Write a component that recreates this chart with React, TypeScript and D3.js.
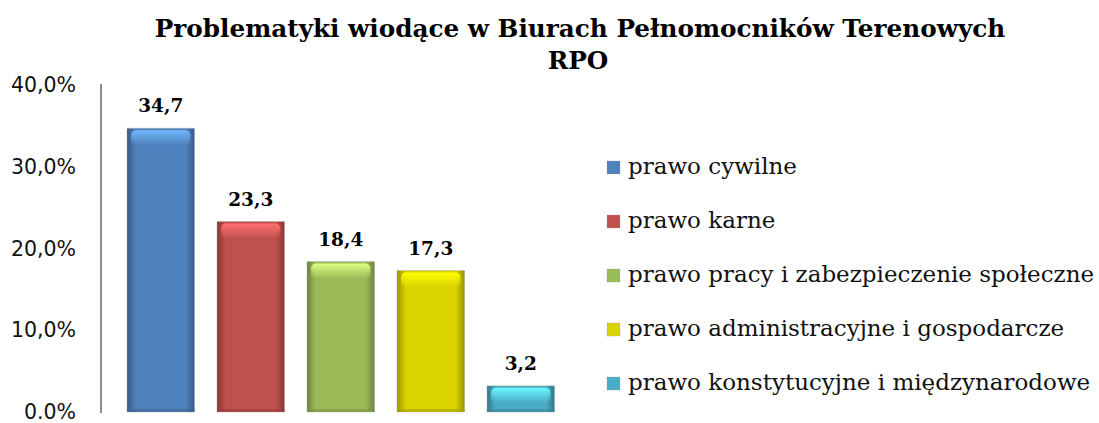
import React from 'react';
import * as d3 from 'd3';

const categories = [
  'prawo cywilne',
  'prawo karne',
  'prawo pracy i zabezpieczenie społeczne',
  'prawo administracyjne i gospodarcze',
  'prawo konstytucyjne i międzynarodowe',
];
const values = [34.7, 23.3, 18.4, 17.3, 3.2];
const colors = ['#4f81bd', '#c0504d', '#9bbb59', '#d9d300', '#4bacc6'];
const yTicks = [0, 10, 20, 30, 40];
const yTickLabels = ['0.0%', '10,0%', '20,0%', '30,0%', '40,0%'];

const W = 1099;
const H = 423;
const SERIF = "'DejaVu Serif', serif";
const SANS = "'DejaVu Sans', Verdana, sans-serif";

const App = () => {
  const x = d3.scaleBand<number>()
    .domain(d3.range(values.length))
    .range([104.5, 577])
    .paddingInner(0.25)
    .paddingOuter(0.25);
  const y = d3.scaleLinear().domain([0, 40]).range([412, 85]);

  const fmt = (v: number) => v.toFixed(1).replace('.', ',');

  return (
    <svg width={W} height={H} style={{ position: 'absolute', left: 0, top: 0 }}>
      <defs>
        {colors.map((c, i) => {
          const base = d3.color(c)!;
          return (
            <React.Fragment key={i}>
              <linearGradient id={`side${i}`} x1="0" x2="1" y1="0" y2="0">
                <stop offset="0" stopColor={base.darker(1).toString()} />
                <stop offset="0.13" stopColor={base.toString()} />
                <stop offset="0.87" stopColor={base.toString()} />
                <stop offset="1" stopColor={base.darker(1).toString()} />
              </linearGradient>
              <linearGradient id={`top${i}`} x1="0" x2="0" y1="0" y2="1">
                <stop offset="0" stopColor={base.brighter(1).toString()} />
                <stop offset="1" stopColor={base.brighter(1).toString()} stopOpacity="0" />
              </linearGradient>
            </React.Fragment>
          );
        })}
      </defs>

      <text x={580} y={37} textAnchor="middle" fontFamily={SERIF} fontWeight="bold" fontSize={24.7}>
        Problematyki wiodące w Biurach Pełnomocników Terenowych
      </text>
      <text x={578} y={69} textAnchor="middle" fontFamily={SERIF} fontWeight="bold" fontSize={24.7}>
        RPO
      </text>

      <line x1={101} x2={101} y1={84} y2={413} stroke="#8c8c8c" strokeWidth={2} />
      {yTicks.map((t, i) => (
        <text key={t} x={76} y={y(t) + 7} textAnchor="end" fontFamily={SANS} fontSize={20.5} fill="#111">
          {yTickLabels[i]}
        </text>
      ))}

      {values.map((v, i) => {
        const bx = x(i)!;
        const bw = x.bandwidth();
        const by = y(v);
        const bh = y(0) - by;
        const bevel = Math.min(10, bh / 2);
        return (
          <g key={i}>
            <rect x={bx} y={by} width={bw} height={bh} fill={`url(#side${i})`} stroke="#a0a0a0" strokeWidth={0.8} strokeDasharray="1,1" />
            <rect x={bx + 4} y={by + 2} width={bw - 8} height={bevel * 1.5} rx={5} fill={`url(#top${i})`} />
            <rect x={bx} y={y(0) - 3} width={bw} height={3} fill={d3.color(colors[i])!.darker(0.7).toString()} opacity={0.6} />
            <text x={bx + bw / 2} y={by - 16} textAnchor="middle" fontFamily={SERIF} fontWeight="bold" fontSize={18.5}>
              {fmt(v)}
            </text>
          </g>
        );
      })}

      {categories.map((c, i) => {
        const ly = 167 + i * 54;
        return (
          <g key={c}>
            <rect x={607} y={ly - 6} width={13} height={13} fill={colors[i]} stroke="#a0a0a0" strokeWidth={0.6} strokeDasharray="1,1" />
            <text x={628} y={ly + 7} fontFamily={SERIF} fontSize={23} fill="#111">
              {c}
            </text>
          </g>
        );
      })}
    </svg>
  );
};

export default App;
